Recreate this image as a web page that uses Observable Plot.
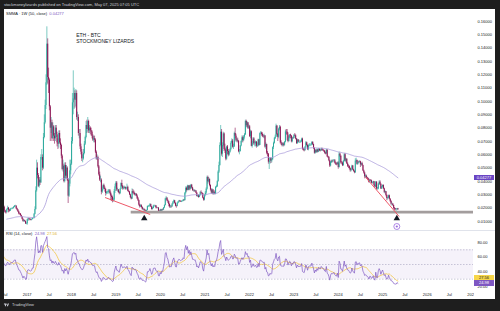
<!DOCTYPE html>
<html><head><meta charset="utf-8">
<script src="https://cdn.jsdelivr.net/npm/d3@7"></script>
<script src="https://cdn.jsdelivr.net/npm/@observablehq/plot@0.6"></script>
<style>
html,body{margin:0;padding:0}
body{width:500px;height:311px;background:#1e1e1e;overflow:hidden;position:relative;font-family:"Liberation Sans",Arial,sans-serif}
.abs{position:absolute;white-space:nowrap;line-height:1}
svg{overflow:hidden}
#panel{position:absolute;left:4px;top:9px;width:491px;height:290px;background:#fff}
#price,#rsi{position:absolute;left:4px}
#price{top:9px}#rsi{top:230px}
.box{position:absolute;left:474px;width:20px;height:5.5px;font-size:4px;line-height:5.5px;text-align:center}
</style></head><body>
<div class="abs" style="left:4px;top:3px;font-size:4px;color:#d1d4dc">stockmoneylizards published on TradingView.com, May 07, 2025 07:05 UTC</div>
<div id="panel"></div>
<div id="price"></div>
<div class="abs" style="left:4px;top:230px;width:491px;height:0;border-top:0.6px solid #e0e3eb"></div>
<div id="rsi"></div>
<div class="abs" style="left:474px;top:289px;width:21px;height:10px;background:#fff"></div>
<div class="abs" id="smmaLegend" style="left:6px;top:11.8px;font-size:4px;color:#131722"></div>
<div class="abs" id="rsiLegend" style="left:6px;top:232.4px;font-size:4px;color:#131722"></div>
<div id="boxes"></div>
<div class="abs" style="left:3px;top:302.5px;height:5px;font-size:4px;color:#d1d4dc;display:flex;align-items:center">
<svg width="7" height="4" viewBox="0 0 36 28" style="margin-right:2px;overflow:visible"><path d="M14 22H7V11H0V4h14v18zM28 22h-8l7.5-18h8L28 22z" fill="#d1d4dc"/><circle cx="20" cy="8" r="4" fill="#d1d4dc"/></svg>TradingView</div>
<script>
// ---------------- data (ETH/BTC weekly, values in 1e-4 BTC) ----------------
const firstWeek = "2015-08-10";           // Monday of the first weekly bar
const close = [
 // 2015
 48,55,52,55,44,39,26,27,25,18,17,31,25,29,27,26,22,19,20,20,22,
 // 2016
 23,31,41,59, 68,130,100,148,235, 300,253,255,275, 205,217,168,195, 204,255,284,242,240, 240,164,207,179, 168,166,189,200, 185,177,193,195,195, 198,207,215,215, 196,186,173,157,156, 144,133,116,99, 106,99,81,82,
 // 2017
 113,119,117,114,111, 114,122,122,154, 190,330,500,445, 364,410,390,580, 580,500,730,840,970, 1140,1430,1180,1160, 960,800,840,720,810, 740,720,800,750, 690,680,760,690, 670,590,490,515,400, 520,440,500,410, 290,380,480,530,
 // 2018
 700,990,1020,1060,1010, 1060,880,880,760, 760,660,620,570, 570,610,680,730,820, 790,850,780,800, 780,770,740,710, 720,710,620,570,580, 510,450,410,410, 320,340,370,350, 340,310,315,315,330, 330,310,290,280, 256,260,325,360,388,
 // 2019
 336,336,317,309, 342,385,363,345, 350,355,343,344, 356,327,321,300,280, 268,324,311,310, 300,303,290,270, 256,223,210,218,205, 189,190,186,179, 171,182,212,212,216, 226,209,190,197, 215,216,217,203, 200,200,176,175,186,
 // 2020
 178,188,186,202, 220,269,274,255, 248,228,210,212,211, 229,245,255,236, 215,213,237,245, 253,250,247,250,251, 260,257,312,349, 333,365,336,366,344, 372,352,330,330, 325,328,312,287, 293,280,295,316,313, 308,275,260,297,
 // 2021
 313,342,430,397, 415,370,337,314, 336,303,315,306,355, 360,399,470,520, 670,770,605,670,757, 640,634,568,659, 625,598,619,640, 687,703,657,660,760, 740,704,710,703, 623,625,666,700, 728,707,733,750,850, 818,840,800,810,
 // 2022
 737,773,664,686,719, 682,682,695,664, 667,712,671,759, 763,753,740,735, 741,658,677,612,605, 545,550,570,554, 562,654,686,721, 733,815,753,731,793, 807,690,686,669, 680,672,695,771,770, 747,700,726,749, 740,698,725,723,
 // 2023
 746,742,718,683,711, 695,695,696,698, 718,643,636,631, 657,690,670,639, 668,672,673,673,694, 677,649,612,632, 617,637,621,642,630, 629,644,635,630, 627,613,608,634, 585,579,555,516,542, 552,549,551,555, 537,530,527,539,
 // 2024
 505,605,590,539,538, 518,552,601,553, 566,532,514,512, 497,481,485,516,488, 476,466,553,558, 528,544,543,548, 525,534,519,479,463, 435,440,428,423, 414,393,407,405,387, 390,398,370,358, 395,343,343,381, 395,379,344,359,370,
 // 2025
 345,318,323,295, 272,276,293,268, 250,230,230,220,198, 194,190,190,195, 188
];
const high = [
 52,60,58,60,56,46,40,29,29,26,20,35,33,32,31,29,27,23,22,23,24,
 25,34,45,64, 75,150,140,155,260, 355,320,275,290, 280,225,218,200, 215,265,305,290,265, 300,300,215,215, 185,180,195,215, 205,190,196,200,200, 205,212,220,222, 218,200,190,178,164, 160,148,135,120, 112,110,102,90,
 118,125,124,121,118, 118,127,128,160, 210,360,560,540, 460,430,430,600, 640,600,760,900,1010, 1200,1560,1470,1250, 1170,970,880,860,840, 820,760,820,820, 770,720,780,780, 720,680,600,560,530, 540,540,520,510, 420,420,560,560,
 730,1060,1230,1100,1080, 1090,1080,920,900, 790,790,680,640, 600,640,700,740,850, 860,880,860,820, 810,800,780,750, 740,740,720,630,600, 590,520,470,440, 420,360,380,380, 360,345,325,325,340, 340,340,320,300, 290,275,340,380,400,
 400,350,340,325, 345,390,410,370, 360,365,360,355, 380,365,335,325,305, 285,345,340,330, 320,310,310,300, 280,260,230,225,225, 210,200,198,190, 182,186,216,220,222, 235,230,212,205, 222,222,222,220, 208,205,205,182,192,
 190,192,194,205, 225,275,288,280, 262,252,232,220,218, 235,250,262,258, 240,222,240,250, 258,258,254,255,256, 266,264,318,360, 358,372,370,372,370, 378,378,356,342, 338,335,332,316, 298,300,300,325,330, 318,310,280,300,
 325,352,440,440, 430,420,375,345, 345,340,325,330,362, 372,405,480,545, 690,820,790,690,770, 765,680,650,665, 670,640,630,648, 700,720,715,680,770, 800,755,725,725, 705,640,670,705, 742,740,745,760,860, 860,850,842,825,
 820,785,780,700,730, 728,700,705,700, 690,718,715,765, 775,770,765,750, 755,745,690,680,625, 610,575,580,575, 575,660,695,730, 748,830,820,760,800, 820,815,705,690, 690,690,700,785,790, 790,765,735,752, 755,745,730,735,
 752,760,750,722,718, 715,705,710,706, 725,725,650,648, 662,700,695,675, 675,685,680,684,698, 697,680,652,640, 640,645,642,648,645, 640,650,650,640, 638,632,620,640, 640,590,586,560,550, 560,560,565,565, 565,545,540,545,
 548,620,612,592,550, 545,558,608,610, 575,572,540,525, 518,502,492,522,520, 492,480,570,575, 560,552,552,556, 552,540,545,522,485, 470,450,448,432, 425,418,412,415,410, 395,402,400,375, 400,398,355,385, 405,405,382,365,375,
 375,350,330,325, 300,282,298,298, 270,256,240,235,222, 205,198,197,198, 198
];
const low = [
 40,46,45,48,42,36,24,23,22,17,15,17,23,24,25,24,21,18,18,19,19,
 20,22,30,40, 52,65,95,98,150, 220,240,225,250, 200,195,160,165, 188,200,250,235,225, 228,150,155,170, 160,155,164,185, 165,170,175,187,188, 190,195,205,210, 190,180,168,150,148, 140,128,112,96, 95,95,78,76,
 72,100,108,105,106, 105,112,118,120, 150,185,320,420, 355,350,370,385, 560,480,490,720,830, 940,1120,1130,1060, 930,700,760,700,720, 700,680,700,730, 660,640,650,680, 640,570,480,470,390, 390,420,420,400, 235,280,360,450,
 520,680,900,940,950, 960,860,850,740, 720,640,600,550, 540,560,600,670,720, 760,770,760,760, 750,740,720,700, 690,690,610,560,560, 500,440,400,390, 300,310,330,340, 320,290,300,305,305, 320,300,255,250, 240,245,250,310,350,
 325,320,312,300, 302,338,355,335, 338,345,335,335, 338,322,315,295,272, 262,265,300,300, 292,290,285,265, 250,215,200,205,200, 185,180,178,166, 165,168,180,205,204, 210,205,185,186, 195,210,205,195, 195,195,172,170,172,
 170,175,180,184, 198,216,260,248, 235,210,200,198,200, 205,225,238,230, 210,200,210,232, 240,244,244,242,245, 248,252,254,305, 320,330,330,333,330, 340,345,328,322, 318,320,308,285, 280,275,278,290,305, 300,270,252,255,
 285,300,335,380, 390,360,328,305, 305,298,298,300,300, 350,355,395,460, 515,660,590,580,660, 625,610,555,560, 600,585,590,612, 630,680,650,640,655, 720,695,690,690, 615,600,620,660, 690,690,700,718,745, 805,800,790,792,
 730,720,660,650,680, 670,660,660,650, 655,660,665,670, 750,740,730,725, 720,650,640,600,585, 530,490,530,535, 540,560,640,680, 715,730,745,700,720, 780,680,670,660, 660,660,665,690,750, 705,690,695,720, 720,690,690,715,
 720,735,712,680,680, 690,685,685,688, 692,635,628,622, 628,650,665,632, 630,660,662,665,668, 670,640,605,605, 612,612,615,618,625, 622,625,630,625, 618,605,600,602, 580,572,548,505,510, 535,540,540,548, 530,520,518,522,
 492,500,580,530,525, 512,515,548,545, 540,528,505,498, 488,470,472,480,482, 470,458,460,540, 522,522,535,538, 505,515,515,475,455, 420,425,420,415, 405,388,388,398,382, 380,382,362,350, 352,335,335,338, 370,372,340,340,352,
 340,310,305,285, 255,262,270,262, 242,222,215,214,188, 180,180,177,182, 184
];
const priceTicks = [0.01,0.02,0.03,0.04,0.05,0.06,0.07,0.08,0.09,0.10,0.11,0.12,0.13,0.14,0.15,0.16];
const rsiTicks = [20,40,60,80];
const rsiLevels = [70,50,30];
const rsiBand = [{lo:30, hi:70}];
const timeTicks = ["2016-07-01","2017-01-01","2017-07-01","2018-01-01","2018-07-01","2019-01-01","2019-07-01","2020-01-01","2020-07-01","2021-01-01","2021-07-01","2022-01-01","2022-07-01","2023-01-01","2023-07-01","2024-01-01","2024-07-01","2025-01-01","2025-07-01","2026-01-01","2026-07-01","2027-01-01"];
const viewRange = ["2016-06-29","2027-01-16"];
const supportLine = [{price:0.0170, from:"2019-05-06", to:"2027-01-16"}];
const trendLines = [
 {from:"2018-10-03", p1:0.0280, to:"2019-10-09", p2:0.01525},
 {from:"2024-08-13", p1:0.0432, to:"2025-05-15", p2:0.01375}
];
const pivotMarks = [{date:"2019-08-21", price:0.01225},{date:"2025-04-26", price:0.01225}];
const ideaMark = [{date:"2025-04-26", price:0.00625}];
const titleLines = [{text:"ETH - BTC", date:"2018-02-08", price:0.1495},{text:"STOCKMONEY LIZARDS", date:"2018-02-08", price:0.1452}];
const smmaLen = 50, rsiLen = 14, rsiMaLen = 14;
const smmaLast = 0.04277, rsiLast = 24.98, rsiMaLast = 27.56;

// ---------------- build ----------------
const UP = "#26a69a", DOWN = "#880e4f", SMMA_C = "#a99cdb", RSI_C = "#7e57c2", MA_C = "#f2c12e";
const t0 = Date.parse(firstWeek + "T00:00:00Z");
const n = close.length;
const bars = close.map((c, i) => {
  const o = i ? close[i-1] : c;
  return {date: new Date(t0 + i*7*864e5), open: o/1e4, close: c/1e4,
    high: Math.max(high[i], o, c)/1e4, low: Math.min(low[i], o, c)/1e4, color: c >= o ? UP : DOWN};
});
// SMMA(50)
const smma = [];
let s = null;
for (let i = smmaLen-1; i < n; i++) {
  if (s === null) s = d3.mean(close.slice(i-smmaLen+1, i+1));
  else s = (s*(smmaLen-1) + close[i]) / smmaLen;
  smma.push({date: bars[i].date, v: s/1e4});
}
// RSI(14) + SMA(14)
const rsiArr = new Array(n).fill(null);
let au = 0, ad = 0;
for (let i = 1; i < n; i++) {
  const ch = close[i]-close[i-1], u = Math.max(ch,0), d = Math.max(-ch,0);
  if (i <= rsiLen) { au += u/rsiLen; ad += d/rsiLen; if (i < rsiLen) continue; }
  else { au = (au*(rsiLen-1)+u)/rsiLen; ad = (ad*(rsiLen-1)+d)/rsiLen; }
  rsiArr[i] = ad === 0 ? 100 : 100 - 100/(1+au/ad);
}
const rsiData = [], rsiMa = [];
for (let i = 0; i < n; i++) {
  if (rsiArr[i] === null) continue;
  rsiData.push({date: bars[i].date, v: rsiArr[i]});
  const win = rsiArr.slice(i-rsiMaLen+1, i+1);
  if (i-rsiMaLen+1 >= 0 && win.every(v => v !== null)) rsiMa.push({date: bars[i].date, v: d3.mean(win)});
}
const D = s => new Date(s + "T00:00:00Z");
const xDomain = viewRange.map(D);
const font = '"Liberation Sans", Arial, sans-serif';

const price = Plot.plot({
  width: 491, height: 221, marginLeft: 0, marginRight: 22, marginTop: 0, marginBottom: 0,
  style: {fontFamily: font, fontSize: "4px", color: "#131722", background: "transparent"},
  color: {type: "identity"},
  x: {type: "utc", domain: xDomain, range: [0, 469], axis: null},
  y: {domain: [0.01, 0.16], range: [212, 12], axis: "right", ticks: priceTicks, tickFormat: d => d.toFixed(5), tickSize: 0, tickPadding: 4, label: null},
  marks: [
    Plot.ruleX(bars, {x: "date", y1: "low", y2: "high", stroke: "color", strokeWidth: 0.6, clip: true}),
    Plot.ruleX(bars, {x: "date", y1: "open", y2: "close", stroke: "color", strokeWidth: 0.95, clip: true}),
    Plot.line(smma, {x: "date", y: "v", stroke: SMMA_C, strokeWidth: 0.8, clip: true}),
    Plot.ruleY(supportLine, {y: "price", x1: d => D(d.from), x2: d => D(d.to), stroke: "#a39d9d", strokeWidth: 2.6}),
    Plot.link(trendLines, {x1: d => D(d.from), y1: "p1", x2: d => D(d.to), y2: "p2", stroke: "#ee5869", strokeWidth: 1}),
    Plot.dot(pivotMarks, {x: d => D(d.date), y: "price", symbol: "triangle", r: 2.4, fill: "#131722", stroke: null}),
    Plot.dot(ideaMark, {x: d => D(d.date), y: "price", r: 3, fill: "#fff", stroke: "#9c6ade", strokeWidth: 0.8}),
    Plot.dot(ideaMark, {x: d => D(d.date), y: "price", r: 1.1, fill: "#9c6ade", stroke: null}),
    Plot.text(titleLines, {x: d => D(d.date), y: "price", text: "text", textAnchor: "start", fontSize: 5, fill: "#131722"})
  ]
});
document.getElementById("price").appendChild(price);

const rsiPlot = Plot.plot({
  width: 491, height: 69, marginLeft: 0, marginRight: 22, marginTop: 0, marginBottom: 11,
  style: {fontFamily: font, fontSize: "4px", color: "#131722", background: "transparent"},
  x: {type: "utc", domain: xDomain, range: [0, 469], ticks: timeTicks.map(D), tickFormat: d => d.getUTCMonth() === 0 ? String(d.getUTCFullYear()) : "Jul", tickSize: 0, tickPadding: 4.6, label: null},
  y: {domain: [20, 80], range: [56, 12], axis: "right", ticks: rsiTicks, tickFormat: d => d.toFixed(2), tickSize: 0, tickPadding: 4, label: null},
  marks: [
    Plot.rect(rsiBand, {y1: "lo", y2: "hi", fill: RSI_C, fillOpacity: 0.08}),
    Plot.ruleY(rsiLevels, {stroke: "#a6a2bf", strokeWidth: 0.6, strokeDasharray: "1.5,1.5"}),
    Plot.line(rsiMa, {x: "date", y: "v", stroke: MA_C, strokeWidth: 0.7, clip: true}),
    Plot.line(rsiData, {x: "date", y: "v", stroke: RSI_C, strokeWidth: 0.7, clip: true})
  ]
});
document.getElementById("rsi").appendChild(rsiPlot);

// legends and value boxes
document.getElementById("smmaLegend").innerHTML = `SMMA · 1W (50, close)&nbsp; <span style="color:${RSI_C}">${smmaLast.toFixed(5)}</span>`;
document.getElementById("rsiLegend").innerHTML = `RSI (14, close)&nbsp; <span style="color:${RSI_C}">${rsiLast.toFixed(2)}</span>&nbsp; <span style="color:#e0b21c">${rsiMaLast.toFixed(2)}</span>`;
const py = price.scale("y"), ry = rsiPlot.scale("y");
const boxes = document.getElementById("boxes");
function box(top, bg, fg, txt) {
  const b = document.createElement("div");
  b.className = "box"; b.style.top = top + "px"; b.style.background = bg; b.style.color = fg; b.textContent = txt;
  boxes.appendChild(b);
}
box(9 + py.apply(smmaLast) - 2.75, "#6a45c4", "#fff", smmaLast.toFixed(5));
box(230 + ry.apply(rsiMaLast) - 2.75 - 2.9, "#f7d648", "#131722", rsiMaLast.toFixed(2));
box(230 + ry.apply(rsiLast) - 2.75 + 0.6, "#7e57c2", "#fff", rsiLast.toFixed(2));
</script>
</body></html>
